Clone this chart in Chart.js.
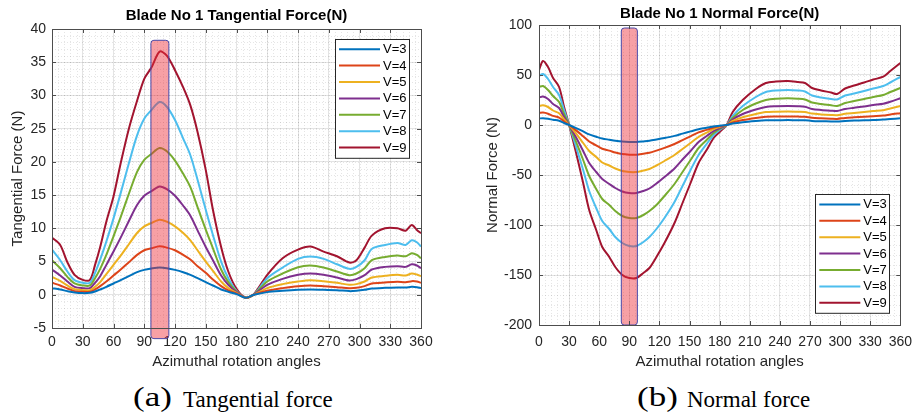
<!DOCTYPE html>
<html>
<head>
<meta charset="utf-8">
<script src="https://cdn.jsdelivr.net/npm/chart.js@4.4.1/dist/chart.umd.min.js"></script>
<style>
  body { margin: 0; background: #fff; width: 921px; height: 420px; position: relative; overflow: hidden; }
  canvas { position: absolute; top: 0; }
  #tangential { left: 0; }
  #normal { left: 460px; }
  .cap { position: absolute; font-family: 'Liberation Serif', 'Times New Roman', serif; color: #000; line-height: 1; white-space: nowrap; }
  .lab { font-size: 28px; top: 383px; transform: scaleX(1.25); transform-origin: left top; }
  .txt { font-size: 23px; top: 388px; }
</style>
</head>
<body>
<canvas id="tangential" width="440" height="372"></canvas>
<canvas id="normal" width="461" height="372"></canvas>
<div class="cap lab" style="left:133px">(a)</div>
<div class="cap txt" style="left:183px">Tangential force</div>
<div class="cap lab" style="left:637px">(b)</div>
<div class="cap txt" style="left:687px">Normal force</div>
<script>
const angA = [0, 8, 15, 22, 30, 37, 42, 47, 53, 60, 67, 75, 83, 90, 97, 105, 112, 120, 128, 135, 142, 150, 157, 165, 172, 180, 189, 197, 210, 225, 240, 252, 265, 278, 290, 297, 305, 312, 325, 337, 345, 351, 356, 360];

// tangential force (N)
const tanV3 = [1.0, 0.8, 0.55, 0.35, 0.25, 0.3, 0.5, 0.8, 1.2, 1.7, 2.2, 2.8, 3.4, 3.75, 3.95, 4.1, 4.0, 3.75, 3.4, 3.0, 2.5, 1.9, 1.4, 0.8, 0.45, 0.1, -0.45, 0.0, 0.4, 0.6, 0.75, 0.8, 0.75, 0.7, 0.55, 0.6, 0.75, 0.95, 1.05, 1.1, 1.1, 1.2, 1.15, 1.0];
const tanV4 = [1.8, 1.4, 0.95, 0.55, 0.45, 0.45, 0.8, 1.3, 2.0, 2.9, 3.8, 4.9, 6.0, 6.7, 7.0, 7.3, 7.1, 6.7, 6.0, 5.3, 4.3, 3.3, 2.3, 1.3, 0.65, 0.2, -0.45, 0.0, 0.6, 1.0, 1.3, 1.4, 1.3, 1.15, 1.0, 1.05, 1.3, 1.7, 1.85, 1.95, 1.9, 2.05, 2.0, 1.8];
const tanV5 = [2.7, 2.1, 1.4, 0.85, 0.7, 0.7, 1.2, 1.9, 3.1, 4.5, 5.9, 7.6, 9.3, 10.3, 10.8, 11.3, 11.0, 10.3, 9.3, 8.2, 6.7, 5.0, 3.6, 2.0, 1.0, 0.3, -0.45, 0.0, 1.0, 1.6, 2.0, 2.2, 2.05, 1.8, 1.5, 1.6, 2.0, 2.6, 2.85, 3.0, 2.9, 3.2, 3.05, 2.8];
const tanV6 = [3.8, 2.9, 2.0, 1.2, 1.0, 1.0, 1.8, 2.8, 4.5, 6.5, 8.6, 11.1, 13.5, 14.9, 15.6, 16.3, 15.9, 14.9, 13.4, 11.9, 9.7, 7.2, 5.2, 2.9, 1.5, 0.4, -0.45, 0.05, 1.5, 2.4, 3.0, 3.2, 3.0, 2.6, 2.15, 2.35, 2.95, 3.8, 4.2, 4.3, 4.2, 4.6, 4.4, 4.0];
const tanV7 = [5.2, 4.0, 2.7, 1.7, 1.4, 1.4, 2.5, 3.9, 6, 8.8, 11.7, 15.2, 18.5, 20.3, 21.2, 22.1, 21.6, 20.2, 18.2, 16.2, 13.2, 9.8, 7, 3.8, 1.9, 0.5, -0.45, 0.05, 2.0, 3.2, 4.15, 4.4, 4.1, 3.5, 2.95, 3.2, 4.0, 5.2, 5.7, 5.9, 5.8, 6.25, 6.0, 5.5];
const tanV8 = [6.8, 5.2, 3.5, 2.2, 1.8, 1.8, 3.3, 5.3, 8, 11.5, 15.3, 19.8, 24, 26.5, 27.8, 29, 28.3, 26.3, 23.5, 21, 17.3, 12.8, 9, 5, 2.5, 0.6, -0.45, 0.05, 2.5, 4.1, 5.4, 5.75, 5.4, 4.6, 3.9, 4.2, 5.2, 6.9, 7.5, 7.8, 7.5, 8.2, 7.9, 7.25];
const tanV9 = [8.6, 7.5, 4.9, 3.0, 2.25, 2.25, 4.5, 7.2, 11, 14.8, 19.8, 25, 29.2, 32.5, 34.2, 36.6, 36.0, 33.8, 31.2, 28.5, 24.5, 18.8, 12.8, 7.2, 3.5, 0.9, -0.45, 0.1, 3.0, 5.5, 6.8, 7.25, 6.5, 5.8, 4.85, 5.2, 7.1, 8.9, 10.0, 10.0, 9.65, 10.5, 9.75, 9.25];

const angB = [0, 4, 9, 14, 20, 25, 30, 37, 44, 50, 57, 63, 70, 76, 83, 90, 97, 104, 110, 117, 125, 135, 143, 151, 159, 167, 174, 180, 187, 193, 203, 216, 226, 236, 248, 258, 265, 272, 281, 291, 297, 305, 314, 324, 333, 343, 350, 360];

// normal force (N)
const norV3 = [6.5, 6.8, 6.2, 5.2, 4.2, 2.0, 0, -3.1, -6.4, -9.4, -11.7, -13.5, -14.7, -15.7, -16.6, -17, -17, -16.4, -15.8, -14.6, -13.1, -10.9, -8.6, -6.4, -4.2, -2.8, -1.4, -0.8, 0, 1.4, 2.8, 4, 4.7, 4.8, 4.9, 4.8, 4.7, 4.1, 3.8, 3.6, 3.5, 4.0, 4.4, 4.7, 5.0, 5.4, 6.0, 6.7];
const norV4 = [12, 12.4, 11.3, 9.1, 7.4, 3.5, 0, -5.4, -11.3, -16.5, -20.4, -23.7, -25.6, -27.5, -29.1, -29.7, -29.7, -28.7, -27.7, -25.6, -22.9, -19, -15.1, -11.3, -7.4, -4.9, -2.5, -1.3, 0, 2.5, 4.9, 7, 8.2, 8.5, 8.6, 8.4, 8.2, 7.2, 6.7, 6.3, 6.1, 7.1, 7.7, 8.3, 8.8, 9.4, 10.5, 11.8];
const norV5 = [19, 19.7, 18, 14.5, 11.7, 5.5, 0, -8.6, -18, -26, -32, -37.5, -40.5, -43.5, -46, -47, -47, -45.5, -44, -40.5, -36, -30, -24, -18, -12, -7.7, -4, -2, 0, 4, 7.7, 11, 12.9, 13.3, 13.5, 13.2, 12.9, 11.4, 10.6, 10.0, 9.8, 11.2, 12.1, 13.1, 14, 14.8, 16.5, 19];
const norV6 = [27.5, 28.5, 26, 21, 17, 8, 0, -12.5, -26, -38, -47, -54, -59, -63, -66.5, -68, -68, -66, -63.5, -58.5, -52, -43.5, -34.5, -26, -17, -11, -6, -3, 0, 5.5, 11, 15.5, 18, 18.7, 19, 18.7, 18.2, 16, 15, 14.3, 14, 16, 17.2, 18.5, 20, 21.3, 23.3, 26.7];
const norV7 = [38, 39, 35, 29, 23, 11, 0, -17, -35, -51, -64, -74, -80, -86, -91, -93, -93, -90, -86, -80, -71, -59, -47, -35, -23, -15, -8, -4, 0, 7, 15, 21.5, 25, 26.3, 26.7, 26.3, 25.5, 22.5, 21, 19.7, 19, 22, 24, 26, 28, 30, 33, 37];
const norV8 = [49, 51, 46, 38, 30, 15, 0, -22, -45, -66, -83, -96, -104, -112, -118, -121, -121, -117, -112, -104, -93, -77, -61, -45, -30, -19, -10, -5, 0, 9, 19, 28, 33, 34.5, 35, 34.5, 33.5, 29.5, 27.5, 26, 25.5, 29.5, 31.5, 34, 36.5, 39, 42.5, 48];
const norV9 = [55, 64, 58, 47, 38, 18, 0, -28, -58, -85, -105, -122, -132, -142, -150, -153, -153, -148, -143, -132, -118, -98, -78, -58, -38, -25, -13, -7, 0, 13, 25, 36, 42, 43.5, 44, 43, 42, 37, 34.5, 32.5, 31, 36.5, 39.5, 42.5, 45.5, 48.3, 54, 62];

const speeds = ['V=3', 'V=4', 'V=5', 'V=6', 'V=7', 'V=8', 'V=9'];
const colors = ['#0072BD', '#DD4419', '#EDB120', '#7E2F8E', '#77AC30', '#4DBEEE', '#A2142F'];

// highlighted angle window: [from, to, low, high]
const bandA = [96.5, 114, -6.6, 38.3];
const bandB = [82, 98, -200, 97];

Chart.defaults.font.family = "'Liberation Sans', Arial, Helvetica, sans-serif";
Chart.defaults.color = '#262626';

// dotted minor grid like matlab
const minorGrid = {
    id: 'minorGrid',
    beforeDatasetsDraw(chart, args, opts) {
        const { ctx, chartArea: a, scales: { x, y } } = chart;
        ctx.save();
        ctx.strokeStyle = 'rgba(0,0,0,0.10)';
        ctx.lineWidth = 1;
        ctx.setLineDash([1, 2]);
        const nx = Math.round((x.max - x.min) / opts.dx);
        for (let i = 1; i < nx; i++) {
            const px = Math.round(x.getPixelForValue(x.min + i * opts.dx)) + 0.5;
            ctx.beginPath(); ctx.moveTo(px, a.top); ctx.lineTo(px, a.bottom); ctx.stroke();
        }
        const ny = Math.round((y.max - y.min) / opts.dy);
        for (let i = 1; i < ny; i++) {
            const py = Math.round(y.getPixelForValue(y.min + i * opts.dy)) + 0.5;
            ctx.beginPath(); ctx.moveTo(a.left, py); ctx.lineTo(a.right, py); ctx.stroke();
        }
        ctx.restore();
    }
};

const band = {
    id: 'band',
    afterDatasetsDraw(chart, args, opts) {
        const { ctx, scales: { x, y } } = chart;
        const [a0, a1, lo, hi] = opts.range;
        const l = x.getPixelForValue(a0), r = x.getPixelForValue(a1);
        const t = y.getPixelForValue(hi), b = y.getPixelForValue(lo);
        ctx.save();
        ctx.beginPath();
        ctx.roundRect(l, t, r - l, b - t, 3);
        ctx.fillStyle = 'rgba(238,45,55,0.45)';
        ctx.fill();
        ctx.strokeStyle = '#4848a8';
        ctx.lineWidth = 1;
        ctx.stroke();
        ctx.restore();
    }
};

// axes box with inward tick marks
const frame = {
    id: 'frame',
    afterDatasetsDraw(chart) {
        const { ctx, chartArea: a, scales: { x, y } } = chart;
        ctx.save();
        ctx.strokeStyle = '#4d4d4d';
        ctx.lineWidth = 1;
        ctx.strokeRect(Math.round(a.left) + 0.5, Math.round(a.top) + 0.5, Math.round(a.right - a.left), Math.round(a.bottom - a.top));
        ctx.beginPath();
        x.ticks.forEach(t => {
            const px = Math.round(x.getPixelForValue(t.value)) + 0.5;
            ctx.moveTo(px, a.top); ctx.lineTo(px, a.top + 4);
            ctx.moveTo(px, a.bottom); ctx.lineTo(px, a.bottom - 4);
        });
        y.ticks.forEach(t => {
            const py = Math.round(y.getPixelForValue(t.value)) + 0.5;
            ctx.moveTo(a.left, py); ctx.lineTo(a.left + 4, py);
            ctx.moveTo(a.right, py); ctx.lineTo(a.right - 4, py);
        });
        ctx.stroke();
        ctx.restore();
    }
};

const boxLegend = {
    id: 'boxLegend',
    afterDraw(chart, args, opts) {
        const { ctx, chartArea: a } = chart;
        const sets = chart.data.datasets;
        const rowH = 16.4, w = 74, h = rowH * sets.length + 4;
        const left = a.right - opts.right - w;
        const top = opts.top ? a.top + opts.top : a.bottom - opts.bottom - h;
        ctx.save();
        ctx.fillStyle = '#fff';
        ctx.fillRect(left, top, w, h);
        ctx.strokeStyle = '#262626';
        ctx.lineWidth = 1;
        ctx.strokeRect(Math.round(left) + 0.5, Math.round(top) + 0.5, w, h);
        ctx.font = "13px 'Liberation Sans', Arial, sans-serif";
        ctx.textBaseline = 'middle';
        ctx.fillStyle = '#000';
        sets.forEach((ds, i) => {
            const yy = top + 2 + rowH * (i + 0.5);
            ctx.strokeStyle = ds.borderColor;
            ctx.lineWidth = 2;
            ctx.beginPath(); ctx.moveTo(left + 4, yy); ctx.lineTo(left + 45, yy); ctx.stroke();
            ctx.fillText(ds.label, left + 48, yy + 0.5);
        });
        ctx.restore();
    }
};

function buildChart(id, o) {
    return new Chart(document.getElementById(id), {
        type: 'line',
        data: {
            datasets: o.series.map((s, i) => ({
                label: speeds[i],
                data: s.map((v, k) => ({ x: o.angles[k], y: v })),
                borderColor: colors[i],
                borderWidth: 2,
                pointRadius: 0,
                tension: 0.3,
                fill: false
            }))
        },
        options: {
            responsive: false,
            animation: false,
            layout: { padding: { left: 0, right: o.padRight, top: 0, bottom: 0 } },
            plugins: {
                legend: { display: false },
                tooltip: { enabled: false },
                title: {
                    display: true, text: o.title, fullSize: false, color: '#000',
                    font: { size: 15, weight: 'bold' },
                    padding: { top: o.titleTop, bottom: o.titleBottom }
                },
                minorGrid: { dx: 6, dy: o.minorY },
                band: { range: o.band },
                boxLegend: o.legend
            },
            scales: {
                x: {
                    type: 'linear', min: 0, max: 360,
                    ticks: { stepSize: 30, padding: o.xTickPad, maxRotation: 0, autoSkip: false, font: { size: 14 } },
                    grid: { color: '#e4e4e4', drawTicks: false },
                    border: { display: false },
                    title: { display: true, text: 'Azimuthal rotation angles', color: '#262626', font: { size: 15 }, padding: { top: 0, bottom: 1 } },
                    afterFit: s => { s.height = o.xHeight; }
                },
                y: {
                    min: o.yMin, max: o.yMax,
                    ticks: { stepSize: o.yStep, padding: o.yTickPad, font: { size: 14 } },
                    grid: { color: '#e4e4e4', drawTicks: false },
                    border: { display: false },
                    title: { display: true, text: o.yTitle, color: '#262626', font: { size: 15 }, padding: { top: o.yTitlePad, bottom: 0 } },
                    afterFit: s => { s.width = o.yWidth; }
                }
            }
        },
        plugins: [minorGrid, band, frame, boxLegend]
    });
}

buildChart('tangential', {
    title: 'Blade No 1 Tangential Force(N)',
    yTitle: 'Tangential Force (N)',
    angles: angA,
    series: [tanV3, tanV4, tanV5, tanV6, tanV7, tanV8, tanV9],
    yMin: -5, yMax: 40, yStep: 5, minorY: 1,
    band: bandA,
    legend: { right: 12, top: 10 },
    padRight: 19, yWidth: 52, xHeight: 44,
    titleTop: 7, titleBottom: 4,
    xTickPad: 6, yTickPad: 6, yTitlePad: 9
});

buildChart('normal', {
    title: 'Blade No 1 Normal Force(N)',
    yTitle: 'Normal Force (N)',
    angles: angB,
    series: [norV3, norV4, norV5, norV6, norV7, norV8, norV9],
    yMin: -200, yMax: 100, yStep: 50, minorY: 10,
    band: bandB,
    legend: { right: 11, bottom: 12 },
    padRight: 14, yWidth: 79, xHeight: 47,
    titleTop: 5, titleBottom: 2,
    xTickPad: 9, yTickPad: 7, yTitlePad: 24
});
</script>
</body>
</html>
